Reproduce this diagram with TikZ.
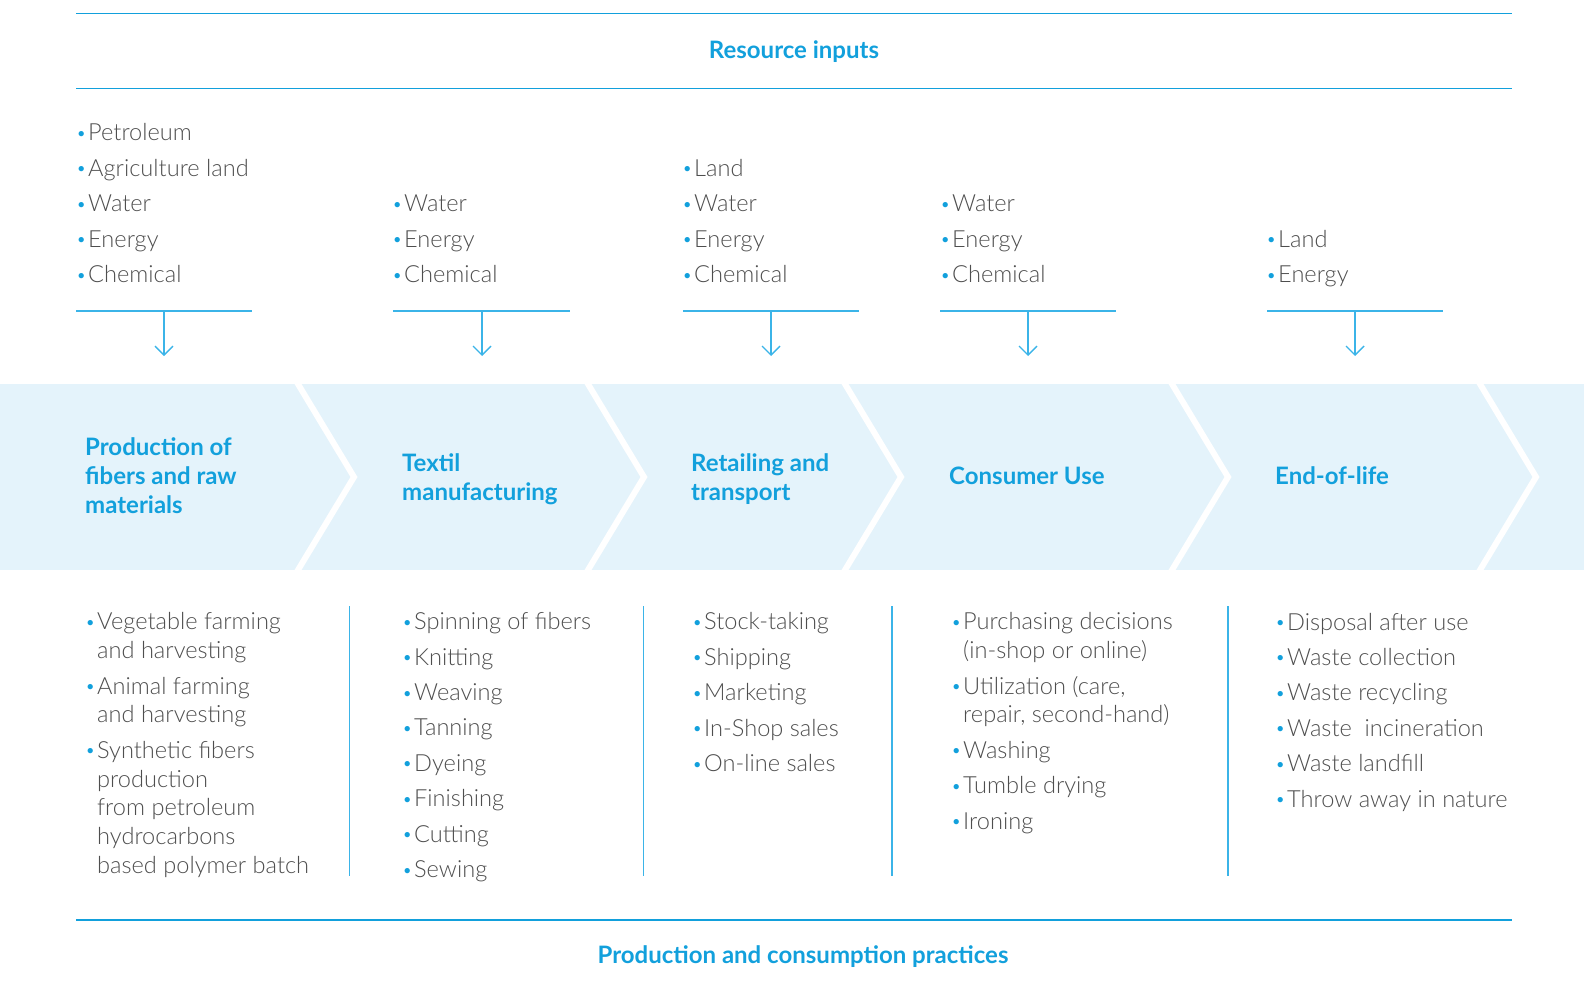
\documentclass[tikz,border=0pt]{standalone}
\usepackage{fontspec}
\setmainfont{Lato}
\newfontfamily\lightfont{Lato Light}
\usetikzlibrary{arrows.meta,positioning}

\definecolor{inkblue}{RGB}{18,160,220}
\definecolor{lineblue}{RGB}{59,180,232}
\definecolor{bandblue}{RGB}{228,243,251}
\definecolor{textgray}{RGB}{78,78,78}

\tikzset{
  heading/.style={font=\fontsize{24}{24}\selectfont\bfseries, text=inkblue, inner sep=0pt, anchor=base},
  stage/.style={font=\fontsize{24}{29}\selectfont\bfseries, text=inkblue, align=left, inner sep=0pt, anchor=base west},
  items/.style={font=\lightfont\fontsize{23.6}{28.8}\selectfont, text=textgray, align=left, inner sep=0pt, anchor=base west},
  rule/.style={draw=inkblue, line width=1.4pt},
  feed/.style={draw=lineblue, line width=1.4pt},
  sep/.style={draw=lineblue, line width=1.4pt},
  chevron/.style={draw=white, line width=6pt, line join=miter}
}
\newcommand{\bul}{\makebox[12pt][l]{\raisebox{1.5pt}{\color{inkblue}\fontsize{18}{18}\selectfont\textbullet}}}
\newcommand{\ind}{\hspace*{12pt}}

\begin{document}
\begin{tikzpicture}[x=1pt,y=-1pt]
        \useasboundingbox (0,0) rectangle (1584,988);
        % Band
        \fill[bandblue] (0,384) rectangle (1584,570);
        \draw[chevron] (293.2,376) -- (298,384) -- (354,477) -- (298,570) -- (293.2,578);
        \draw[chevron] (583.2,376) -- (588,384) -- (644,477) -- (588,570) -- (583.2,578);
        \draw[chevron] (840.2,376) -- (845,384) -- (901,477) -- (845,570) -- (840.2,578);
        \draw[chevron] (1167.2,376) -- (1172,384) -- (1228,477) -- (1172,570) -- (1167.2,578);
        \draw[chevron] (1475.2,376) -- (1480,384) -- (1536,477) -- (1480,570) -- (1475.2,578);
        % Rules and headings
        \draw[rule] (76,13.5) -- (1512,13.5);
        \draw[rule] (76,88.5) -- (1512,88.5);
        \draw[rule] (76,920) -- (1512,920);
        \node[heading] (inputs) at (794,58) {Resource inputs};
        \node[heading] (practices) at (803,963) {Production and consumption practices};
        % Resource inputs
        \node[items] (in1) at (76,282.5) {\bul Petroleum\\[6.6pt]\bul Agriculture land\\[6.6pt]\bul Water\\[6.6pt]\bul Energy\\[6.6pt]\bul Chemical};
        \node[items] (in2) at (392,282.5) {\bul Water\\[6.6pt]\bul Energy\\[6.6pt]\bul Chemical};
        \node[items] (in3) at (682,282.5) {\bul Land\\[6.6pt]\bul Water\\[6.6pt]\bul Energy\\[6.6pt]\bul Chemical};
        \node[items] (in4) at (940,282.5) {\bul Water\\[6.6pt]\bul Energy\\[6.6pt]\bul Chemical};
        \node[items] (in5) at (1266,282.5) {\bul Land\\[6.6pt]\bul Energy};
        % Feed arrows
        \coordinate (f1) at (164,311);
        \coordinate (g1) at (164,356);
        \coordinate (f2) at (482,311);
        \coordinate (g2) at (482,356);
        \coordinate (f3) at (771,311);
        \coordinate (g3) at (771,356);
        \coordinate (f4) at (1028,311);
        \coordinate (g4) at (1028,356);
        \coordinate (f5) at (1355,311);
        \coordinate (g5) at (1355,356);
        \draw[feed] (76,311) -- (252,311);
        \draw[feed] (393,311) -- (570,311);
        \draw[feed] (683,311) -- (859,311);
        \draw[feed] (940,311) -- (1116,311);
        \draw[feed] (1267,311) -- (1443,311);
        \draw[feed,-{Straight Barb[length=9pt,width=18pt]}] (f1) -- (g1);
        \draw[feed,-{Straight Barb[length=9pt,width=18pt]}] (f2) -- (g2);
        \draw[feed,-{Straight Barb[length=9pt,width=18pt]}] (f3) -- (g3);
        \draw[feed,-{Straight Barb[length=9pt,width=18pt]}] (f4) -- (g4);
        \draw[feed,-{Straight Barb[length=9pt,width=18pt]}] (f5) -- (g5);
        % Stages
        \node[stage] (s1) at (85,513) {Production of\\fibers and raw\\materials};
        \node[stage] (s2) at (402,500) {Textil\\manufacturing};
        \node[stage] (s3) at (691,500) {Retailing and\\transport};
        \node[stage] (s4) at (949,484) {Consumer Use};
        \node[stage] (s5) at (1275,484) {End-of-life};
        % Practices
        \node[items] (p1) at (85,873.5) {\bul Vegetable farming\\\ind and harvesting\\[6.6pt]\bul Animal farming\\\ind and harvesting\\[6.6pt]\bul Synthetic fibers\\\ind production\\\ind from petroleum\\\ind hydrocarbons\\\ind based polymer batch};
        \node[items] (p2) at (402,877.5) {\bul Spinning of fibers\\[6.6pt]\bul Knitting\\[6.6pt]\bul Weaving\\[6.6pt]\bul Tanning\\[6.6pt]\bul Dyeing\\[6.6pt]\bul Finishing\\[6.6pt]\bul Cutting\\[6.6pt]\bul Sewing};
        \node[items] (p3) at (692,771.5) {\bul Stock-taking\\[6.6pt]\bul Shipping\\[6.6pt]\bul Marketing\\[6.6pt]\bul In-Shop sales\\[6.6pt]\bul On-line sales};
        \node[items] (p4) at (951,829) {\bul Purchasing decisions\\\ind (in-shop or online)\\[6.6pt]\bul Utilization (care,\\\ind repair, second-hand)\\[6.6pt]\bul Washing\\[6.6pt]\bul Tumble drying\\[6.6pt]\bul Ironing};
        \node[items] (p5) at (1275,807) {\bul Disposal after use\\[6.6pt]\bul Waste collection\\[6.6pt]\bul Waste recycling\\[6.6pt]\bul Waste~ incineration\\[6.6pt]\bul Waste landfill\\[6.6pt]\bul Throw away in nature};
        % Separators
        \draw[sep] (349.5,606) -- (349.5,876);
        \draw[sep] (643.5,606) -- (643.5,876);
        \draw[sep] (892,606) -- (892,876);
        \draw[sep] (1228,606) -- (1228,876);
    \end{tikzpicture}
\end{document}
